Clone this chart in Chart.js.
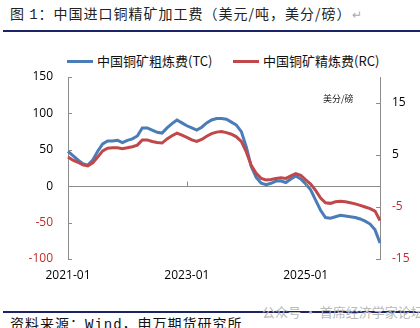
<!DOCTYPE html>
<html>
<head>
<meta charset="utf-8">
<script src="https://cdn.jsdelivr.net/npm/chart.js@4.4.1/dist/chart.umd.min.js"></script>
<style>
  body { margin: 0; background: #fff; }
  #page { position: relative; width: 420px; height: 328px; overflow: hidden; font-family: "Noto Sans CJK SC", sans-serif; color: #111; }
  .title { position: absolute; left: 10px; top: 4px; font-size: 14px; line-height: 18px; letter-spacing: 1px; white-space: nowrap; color: #222; }
  .title .ret { color: #aaa; font-size: 12px; }
  .mono { font-family: "Liberation Mono", monospace; }
  .rule { position: absolute; left: 3px; right: 0; height: 2px; background: #1b2466; }
  .legend { position: absolute; top: 52px; font-size: 13px; line-height: 18px; white-space: nowrap; }
  .swatch { position: absolute; top: 60px; width: 26px; height: 3px; }
  .unit { position: absolute; left: 323px; top: 93px; font-size: 9px; line-height: 12px; color: #222; }
  .source { position: absolute; left: 10px; top: 314px; font-size: 14px; line-height: 18px; letter-spacing: 1px; white-space: nowrap; color: #111; }
  .mark { position: absolute; left: 262px; top: 303px; font-size: 13px; line-height: 18px; color: #b9b9b9; white-space: nowrap; }
  canvas { position: absolute; left: 0; top: 40px; }
</style>
</head>
<body>
<div id="page">
  <div class="title">图 <span class="mono">1</span>：中国进口铜精矿加工费（美元/吨，美分/磅）<span class="ret">↵</span></div>
  <div class="rule" style="top:30px"></div>

  <div class="swatch" style="left:67px;background:#4a7cb8"></div>
  <div class="legend" style="left:97px">中国铜矿粗炼费(TC)</div>
  <div class="swatch" style="left:233px;background:#c0474a"></div>
  <div class="legend" style="left:263px">中国铜矿精炼费(RC)</div>

  <canvas id="chart" width="420" height="250"></canvas>
  <div class="unit">美分/磅</div>

  <div class="rule" style="top:311px"></div>
  <div class="source">资料来源：<span class="mono">Wind</span>，申万期货研究所</div>
  <div class="mark">公众号 · 首席经济学家论坛</div>
</div>
<script>
// 2021-01 到 2026-04 的月度序列
const months = [];
for (let y = 2021; y <= 2026; y++) {
    for (let m = 1; m <= 12; m++) {
        if (months.length < 64) months.push(y + '-' + String(m).padStart(2, '0'));
    }
}

// 粗炼费 TC（美元/吨，左轴）
const tcValues = [
    48, 42, 36, 31, 29, 36, 48, 58, 62, 62, 63, 60,
    63, 65, 69, 80, 80, 77, 74, 73, 80, 86, 91, 87,
    83, 80, 77, 81, 87, 91, 93, 93, 92, 88, 84, 75,
    54, 27, 12, 4, 2, 4, 7, 7, 5, 10, 14, 10,
    3, -5, -19, -33, -43, -44, -42, -40, -41, -42, -43, -45,
    -48, -52, -60, -78
];

// 精炼费 RC（美分/磅，右轴）
const rcValues = [
    4.6, 4.0, 3.6, 3.1, 2.9, 3.5, 4.6, 5.8, 6.3, 6.4, 6.4, 6.2,
    6.4, 6.6, 6.9, 7.9, 7.9, 7.6, 7.4, 7.3, 8.1, 8.7, 9.2, 8.8,
    8.4, 7.9, 7.6, 8.0, 8.6, 9.1, 9.4, 9.5, 9.3, 9.0, 8.5, 7.6,
    5.6, 3.0, 1.5, 0.5, 0.2, 0.3, 0.5, 0.6, 0.5, 1.0, 1.4, 1.1,
    0.2, -0.6, -1.8, -3.3, -4.2, -4.3, -4.0, -3.9, -4.0, -4.2, -4.4, -4.7,
    -5.0, -5.3, -5.8, -7.6
];

const xTickLabels = ['2021-01', '2023-01', '2025-01'];
const leftTicks = [-100, -50, 0, 50, 100, 150];
const rightTicks = [-15, -5, 5, 15];

const axisGrey = '#8c8c8c';
const negRed = '#c8282a';
const tickFont = { family: '"Open Sans", sans-serif', size: 12 };

// 坐标轴内侧的小刻度线，横轴刻度画在零线上
const axisMarks = {
    id: 'axisMarks',
    afterDatasetsDraw(chart) {
        const { ctx, chartArea, scales } = chart;
        const yL = scales.y, yR = scales.y1, x = scales.x;
        ctx.save();
        ctx.strokeStyle = axisGrey;
        ctx.lineWidth = 1;
        ctx.beginPath();
        yL.ticks.forEach(t => {
            const py = Math.round(yL.getPixelForValue(t.value)) + 0.5;
            ctx.moveTo(chartArea.left, py);
            ctx.lineTo(chartArea.left + 4, py);
        });
        yR.ticks.forEach(t => {
            const py = Math.round(yR.getPixelForValue(t.value)) + 0.5;
            ctx.moveTo(chartArea.right - 4, py);
            ctx.lineTo(chartArea.right, py);
        });
        const y0 = Math.round(yL.getPixelForValue(0)) + 0.5;
        x.ticks.forEach(t => {
            const px = Math.round(x.getPixelForValue(t.value)) + 0.5;
            ctx.moveTo(px, y0);
            ctx.lineTo(px, y0 - 5);
        });
        ctx.stroke();
        ctx.restore();
    }
};

new Chart(document.getElementById('chart'), {
    type: 'line',
    data: {
        labels: months,
        datasets: [{
            label: '中国铜矿粗炼费(TC)',
            data: tcValues,
            yAxisID: 'y',
            borderColor: '#4a7cb8',
            borderWidth: 3,
            pointRadius: 0,
            order: 1
        }, {
            label: '中国铜矿精炼费(RC)',
            data: rcValues,
            yAxisID: 'y1',
            borderColor: '#c0474a',
            borderWidth: 3,
            pointRadius: 0,
            order: 0
        }]
    },
    options: {
        responsive: false,
        animation: false,
        devicePixelRatio: 1,
        layout: { padding: { top: 37, left: 0, right: 0, bottom: 0 } },
        plugins: { legend: { display: false }, tooltip: { enabled: false } },
        scales: {
            x: {
                type: 'category',
                grid: { display: false, drawTicks: false },
                border: { display: false },
                ticks: { autoSkip: false, maxRotation: 0, padding: 9, color: '#000', font: tickFont },
                afterBuildTicks: scale => {
                    scale.ticks = scale.ticks.filter(t => xTickLabels.includes(months[t.value]));
                },
                afterFit: scale => { scale.height = 31; }
            },
            y: {
                position: 'left',
                min: -100,
                max: 150,
                grid: {
                    drawTicks: false,
                    color: c => c.tick.value === 0 ? axisGrey : 'rgba(0,0,0,0)'
                },
                border: { display: true, color: axisGrey },
                ticks: {
                    padding: 15,
                    font: tickFont,
                    color: c => c.tick.value < 0 ? negRed : '#000'
                },
                afterBuildTicks: scale => { scale.ticks = leftTicks.map(v => ({ value: v })); },
                afterFit: scale => { scale.width = 68; }
            },
            y1: {
                position: 'right',
                min: -15,
                max: 20,
                grid: { display: false, drawTicks: false },
                border: { display: true, color: axisGrey },
                ticks: {
                    padding: 12,
                    font: tickFont,
                    color: c => c.tick.value < 0 ? negRed : '#000'
                },
                afterBuildTicks: scale => { scale.ticks = rightTicks.map(v => ({ value: v })); },
                afterFit: scale => { scale.width = 40; }
            }
        }
    },
    plugins: [axisMarks]
});
</script>
</body>
</html>
